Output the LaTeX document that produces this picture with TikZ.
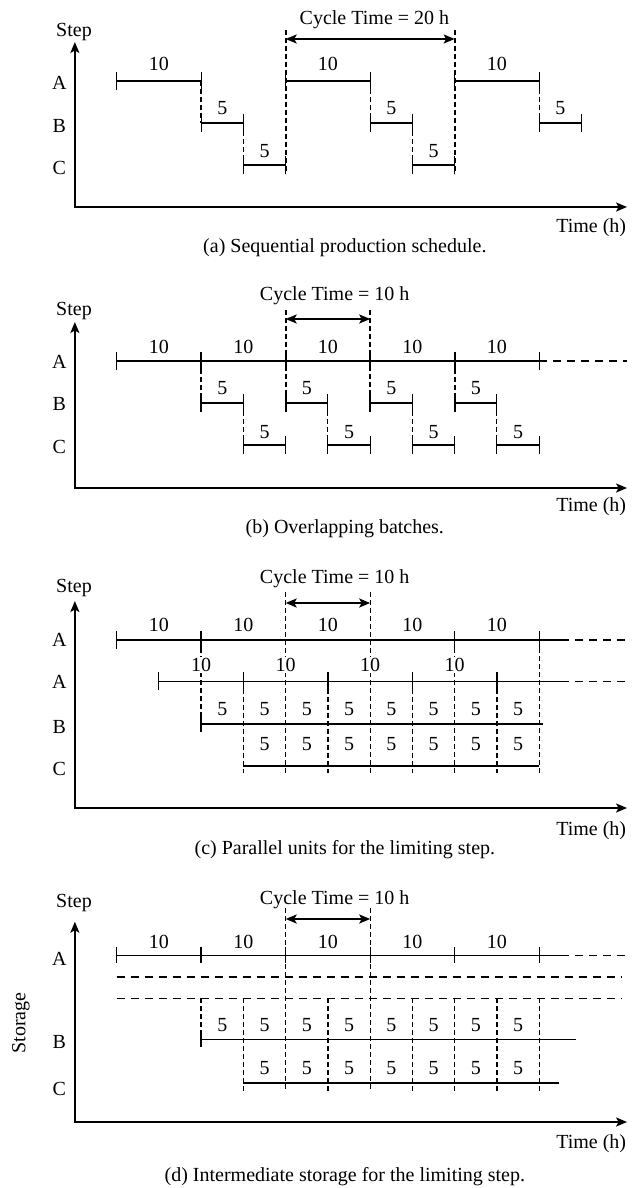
\documentclass[tikz,border=0pt]{standalone}
\usepackage{fontspec}
\setmainfont{Liberation Serif}
\usetikzlibrary{arrows.meta}

\tikzset{
  bar/.style={line width=1.8pt},
  thinbar/.style={line width=0.9pt},
  tk/.style={line width=1.0pt},
  tkthick/.style={line width=1.8pt},
  lnk/.style={line width=1.8pt,dash pattern=on 5pt off 3pt},
  thinlnk/.style={line width=0.9pt,dash pattern=on 5pt off 3pt},
  ext/.style={line width=1.8pt,dash pattern=on 8pt off 6pt},
  thinext/.style={line width=0.9pt,dash pattern=on 8pt off 6pt},
  lbl/.style={fill=white,inner sep=1pt},
  axes/.style={line width=1.8pt,{Stealth[length=11pt,width=9pt,inset=2.5pt]}-{Stealth[length=11pt,width=9pt,inset=2.5pt]}},
  cyc/.style={line width=1.8pt,{Stealth[length=11pt,width=9pt,inset=2.5pt]}-{Stealth[length=11pt,width=9pt,inset=2.5pt]}},
}

\begin{document}
\begin{tikzpicture}[x=8.45pt,y=-1pt,font=\fontsize{20}{24}\selectfont]
  \useasboundingbox (-13.81,0) rectangle (61.81,1188);

  % (a) sequential schedule
  \begin{scope}
    \draw[axes] (-4.95,42) |- (60.4,207);
    \node (stepa) at (-5.05,32) {Step};
    \node (rowaA) at (-6.78,83) {A};
    \node (rowaB) at (-6.78,126) {B};
    \node (rowaC) at (-6.78,168) {C};
    \node[anchor=east] (timea) at (60.7,228) {Time (h)};
    \node (capa) at (27.0,248) {(a) Sequential production schedule.};
    \node (cyca) at (30.5,20) {Cycle Time = 20 h};
    \coordinate (cyca-l) at (20,39);
    \coordinate (cyca-r) at (40,39);
    \draw[cyc] (cyca-l) -- (cyca-r);

    \foreach \s in {0,20,40} {
      \draw[bar] (\s,81) -- (\s+10,81);
      \node (a10-\s) at (\s+5,64) {10};
    }
    \foreach \s in {10,30,50} {
      \draw[bar] (\s,123) -- (\s+5,123);
      \node (a5b-\s) at (\s+2.5,108) {5};
    }
    \foreach \s in {15,35} {
      \draw[bar] (\s,165) -- (\s+5,165);
      \node (a5c-\s) at (\s+2.5,151) {5};
    }
    \foreach \t in {0,10,20,30,40,50} \draw[tk] (\t,72) -- (\t,90);
    \foreach \t in {10,15,30,35,50,55} \draw[tk] (\t,114) -- (\t,132);
    \foreach \t in {15,20,35,40} \draw[tk] (\t,156) -- (\t,174);
    \draw[lnk] (10,81) -- (10,123);
    \draw[thinlnk] (15,123) -- (15,165);
    \draw[lnk] (20,30) -- (20,174);
    \draw[thinlnk] (30,81) -- (30,123);
    \draw[lnk] (35,123) -- (35,165);
    \draw[lnk] (40,30) -- (40,174);
    \draw[thinlnk] (50,81) -- (50,123);
  \end{scope}

  % (b) overlapping batches
  \begin{scope}
    \draw[axes] (-4.95,322) |- (60.4,488);
    \node (stepb) at (-5.05,311) {Step};
    \node (rowbA) at (-6.78,362) {A};
    \node (rowbB) at (-6.78,404) {B};
    \node (rowbC) at (-6.78,447) {C};
    \node[anchor=east] (timeb) at (60.7,507) {Time (h)};
    \node (capb) at (27.0,529) {(b) Overlapping batches.};
    \node (cycb) at (25.8,296) {Cycle Time = 10 h};
    \coordinate (cycb-l) at (20,319);
    \coordinate (cycb-r) at (30,319);
    \draw[cyc] (cycb-l) -- (cycb-r);

    \draw[bar] (0,361) -- (50,361);
    \draw[ext] (50,361) -- (60.4,361);
    \foreach \t in {0,50} \draw[tk] (\t,352) -- (\t,370);
    \foreach \t in {10,20,30,40} \draw[tkthick] (\t,352) -- (\t,370);
    \foreach \s in {0,10,...,40} \node (b10-\s) at (\s+5,347) {10};
    \foreach \s in {10,20,30,40} {
      \draw[bar] (\s,403) -- (\s+5,403);
      \draw[tkthick] (\s,394) -- (\s,412);
      \draw[tk] (\s+5,394) -- (\s+5,412);
      \node (b5b-\s) at (\s+2.5,388) {5};
    }
    \foreach \s in {15,25,35,45} {
      \draw[bar] (\s,445) -- (\s+5,445);
      \draw[tk] (\s,436) -- (\s,454);
      \draw[tk] (\s+5,436) -- (\s+5,454);
      \node (b5c-\s) at (\s+2.5,432) {5};
      \draw[thinlnk] (\s,403) -- (\s,445);
    }
    \draw[lnk] (10,361) -- (10,403);
    \draw[lnk] (20,310) -- (20,403);
    \draw[lnk] (30,310) -- (30,403);
    \draw[lnk] (40,361) -- (40,403);
  \end{scope}

  % (c) parallel units for step A
  \begin{scope}
    \draw[axes] (-4.95,601) |- (60.4,808);
    \node (stepc) at (-5.05,588) {Step};
    \node (rowcA) at (-6.78,640) {A};
    \node (rowcA2) at (-6.78,682) {A};
    \node (rowcB) at (-6.78,727) {B};
    \node (rowcC) at (-6.78,769) {C};
    \node[anchor=east] (timec) at (60.7,831) {Time (h)};
    \node (capc) at (27.0,850) {(c) Parallel units for the limiting step.};
    \node (cycc) at (25.8,579) {Cycle Time = 10 h};
    \coordinate (cycc-l) at (20,603);
    \coordinate (cycc-r) at (30,603);
    \draw[cyc] (cycc-l) -- (cycc-r);

    % batch boundaries
    \draw[lnk] (10,640) -- (10,732);
    \foreach \t in {15,35} \draw[thinlnk] (\t,681) -- (\t,773);
    \foreach \t in {25,45} \draw[lnk] (\t,681) -- (\t,773);
    \foreach \t in {20,30} \draw[thinlnk] (\t,592) -- (\t,773);
    \foreach \t in {40,50} \draw[thinlnk] (\t,640) -- (\t,773);
    % first unit A
    \draw[bar] (0,640) -- (52.6,640);
    \draw[ext] (52.6,640) -- (60.4,640);
    \foreach \t in {0,40,50} \draw[tk] (\t,631) -- (\t,649);
    \draw[tkthick] (10,631) -- (10,649);
    \foreach \s in {0,10,...,40} \node[lbl] (c10-\s) at (\s+5,625) {10};
    % second unit A
    \draw[thinbar] (5,681) -- (52.6,681);
    \draw[thinext] (52.6,681) -- (60.4,681);
    \foreach \t in {5,15,35} \draw[tk] (\t,672) -- (\t,690);
    \foreach \t in {25,45} \draw[tkthick] (\t,672) -- (\t,690);
    \foreach \s in {10,20,30,40} \node[lbl] (c10b-\s) at (\s,665) {10};
    % B and C
    \draw[bar] (10,724) -- (50.5,724);
    \draw[tkthick] (10,715) -- (10,732);
    \draw[bar] (15,766) -- (50,766);
    \foreach \s in {10,15,...,45} \node (c5b-\s) at (\s+2.5,709.3) {5};
    \foreach \s in {15,20,...,45} \node (c5c-\s) at (\s+2.5,744) {5};
  \end{scope}

  % (d) intermediate storage
  \begin{scope}
    \draw[axes] (-4.95,921.7) |- (60.4,1122);
    \node (stepd) at (-5.05,902.7) {Step};
    \node[rotate=90] (storage) at (-11.33,1023) {Storage};
    \node (rowdA) at (-6.78,959) {A};
    \node (rowdB) at (-6.78,1042.3) {B};
    \node (rowdC) at (-6.78,1089) {C};
    \node[anchor=east] (timed) at (60.7,1143.3) {Time (h)};
    \node (capd) at (27.0,1176.7) {(d) Intermediate storage for the limiting step.};
    \node (cycd) at (25.8,899.3) {Cycle Time = 10 h};
    \coordinate (cycd-l) at (20,919);
    \coordinate (cycd-r) at (30,919);
    \draw[cyc] (cycd-l) -- (cycd-r);

    \draw[thinbar] (0,955) -- (52.6,955);
    \draw[thinext] (52.6,955) -- (60.4,955);
    \foreach \t in {0,20,30,40,50} \draw[tk] (\t,947) -- (\t,963);
    \draw[tkthick] (10,947) -- (10,963);
    \foreach \s in {0,10,...,40} \node (d10-\s) at (\s+5,941.7) {10};
    % storage
    \draw[ext] (0,977) -- (59.7,977);
    \draw[thinext] (0,998) -- (59.7,998);
    % B and C
    \draw[thinbar] (10,1039) -- (54.3,1039);
    \draw[tkthick] (10,1030) -- (10,1047);
    \draw[bar] (15,1083) -- (52.4,1083);
    \foreach \s in {10,15,...,45} \node (d5b-\s) at (\s+2.5,1025) {5};
    \foreach \s in {15,20,...,45} \node (d5c-\s) at (\s+2.5,1067.7) {5};
    % batch boundaries
    \draw[lnk] (10,998) -- (10,1047);
    \foreach \t in {15,35,40,50} \draw[thinlnk] (\t,998) -- (\t,1091);
    \foreach \t in {25,45} \draw[lnk] (\t,998) -- (\t,1091);
    \foreach \t in {20,30} \draw[thinlnk] (\t,908) -- (\t,1091);
  \end{scope}
\end{tikzpicture}
\end{document}
